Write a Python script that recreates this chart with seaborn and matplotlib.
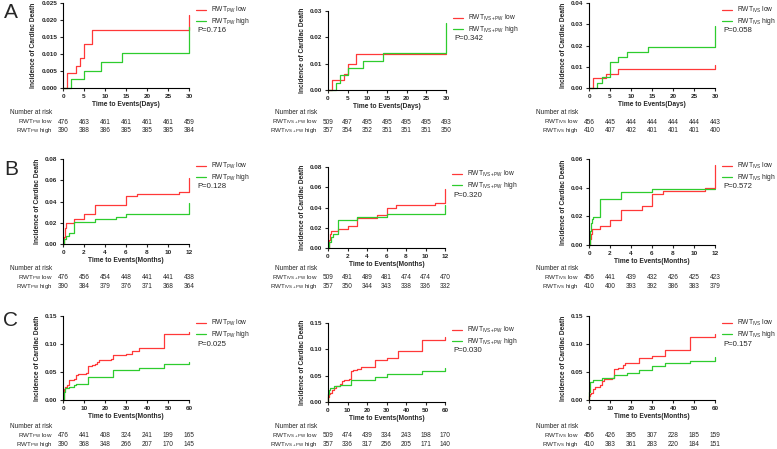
import numpy as np
import pandas as pd
import seaborn as sns
import matplotlib.pyplot as plt
from matplotlib import transforms
from matplotlib.ticker import FormatStrFormatter

sns.set_style("ticks")
plt.rcParams['font.family'] = ['Liberation Sans', 'DejaVu Sans']
plt.rcParams['mathtext.fontset'] = 'custom'
plt.rcParams['mathtext.rm'] = 'Liberation Sans'
plt.rcParams['mathtext.it'] = 'Liberation Sans:italic'
plt.rcParams['mathtext.bf'] = 'Liberation Sans:bold'

#%% data: cumulative incidence step curves (time, incidence)
# row A - 30 days
a_pw_low_t = [0, 1, 3, 4, 5, 7, 30]
a_pw_low_y = [0, 0.0043, 0.0065, 0.0087, 0.0129, 0.0172, 0.0215]
a_pw_high_t = [0, 2, 5, 9, 14, 30]
a_pw_high_y = [0, 0.0026, 0.0051, 0.0077, 0.0103, 0.0179]

a_ivspw_low_t = [0, 1, 4, 5, 7, 30]
a_ivspw_low_y = [0, 0.0039, 0.0059, 0.0098, 0.0138, 0.0138]
a_ivspw_high_t = [0, 2, 3, 5, 9, 14, 30]
a_ivspw_high_y = [0, 0.0028, 0.0056, 0.0084, 0.0112, 0.0140, 0.0255]

a_ivs_low_t = [0, 1, 4, 7, 30]
a_ivs_low_y = [0, 0.0045, 0.0068, 0.0090, 0.0110]
a_ivs_high_t = [0, 2, 3, 5, 7, 9, 14, 30]
a_ivs_high_y = [0, 0.0025, 0.0050, 0.0122, 0.0146, 0.0170, 0.0195, 0.0293]

# row B - 12 months
b_pw_low_t = [0, 0.1, 0.2, 0.3, 1, 2, 3, 6, 7, 11, 12]
b_pw_low_y = [0, 0.007, 0.015, 0.0198, 0.0236, 0.028, 0.0364, 0.0449, 0.047, 0.049, 0.062]
b_pw_high_t = [0, 0.1, 0.3, 0.6, 1, 3, 5, 6, 12]
b_pw_high_y = [0, 0.005, 0.0078, 0.0105, 0.021, 0.0232, 0.0257, 0.0279, 0.039]

b_ivspw_low_t = [0, 0.1, 0.2, 0.3, 1, 2, 3, 5, 6, 7, 11, 12]
b_ivspw_low_y = [0, 0.008, 0.0143, 0.0163, 0.0183, 0.0222, 0.0295, 0.0322, 0.0398, 0.0422, 0.0441, 0.058]
b_ivspw_high_t = [0, 0.1, 0.3, 0.5, 1, 3, 6, 12]
b_ivspw_high_y = [0, 0.006, 0.011, 0.014, 0.0279, 0.0309, 0.0335, 0.042]

b_ivs_low_t = [0, 0.1, 0.2, 0.3, 1, 2, 3, 5, 6, 7, 11, 12]
b_ivs_low_y = [0, 0.004, 0.008, 0.0112, 0.0135, 0.0177, 0.0245, 0.0271, 0.0355, 0.0376, 0.0399, 0.056]
b_ivs_high_t = [0, 0.05, 0.1, 0.2, 0.3, 0.4, 1, 3, 6, 12]
b_ivs_high_y = [0, 0.005, 0.01, 0.015, 0.0182, 0.0198, 0.032, 0.0369, 0.0392, 0.0392]

# row C - 60 months
c_pw_low_t = [0, 0.3, 0.5, 1, 2, 3, 5, 6, 7, 11, 12, 14, 15, 16, 17, 21, 23, 24, 30, 33, 36, 48, 60]
c_pw_low_y = [0, 0.01, 0.02, 0.023, 0.027, 0.0356, 0.037, 0.0439, 0.046, 0.049, 0.061, 0.063,
              0.065, 0.067, 0.0706, 0.071, 0.0729, 0.0806, 0.083, 0.087, 0.0937, 0.117, 0.1215]
c_pw_high_t = [0, 0.3, 0.5, 1, 3, 5, 6, 12, 24, 36, 48, 60]
c_pw_high_y = [0, 0.008, 0.015, 0.0207, 0.0231, 0.026, 0.0285, 0.0403, 0.0534, 0.0569, 0.064, 0.068]

c_ivspw_low_t = [0, 0.2, 0.5, 1, 2, 3, 4, 5, 6, 7, 8, 11, 12, 13, 15, 17, 20, 24, 30, 36, 48, 60]
c_ivspw_low_y = [0, 0.01, 0.0146, 0.018, 0.022, 0.026, 0.0297, 0.031, 0.0348, 0.0405, 0.042, 0.043,
                 0.058, 0.06, 0.062, 0.0658, 0.067, 0.0804, 0.0835, 0.0962, 0.1177, 0.1228]
c_ivspw_high_t = [0, 0.2, 0.5, 1, 3, 6, 12, 24, 30, 48, 60]
c_ivspw_high_y = [0, 0.015, 0.022, 0.0266, 0.03, 0.0323, 0.0424, 0.048, 0.053, 0.058, 0.0646]

c_ivs_low_t = [0, 0.1, 0.5, 1, 2, 3, 5, 6, 7, 11, 12, 14, 16, 17, 24, 30, 36, 48, 60]
c_ivs_low_y = [0, 0.008, 0.01, 0.013, 0.0202, 0.024, 0.026, 0.0332, 0.037, 0.039, 0.0557, 0.058,
               0.0617, 0.0652, 0.0753, 0.0789, 0.0901, 0.1127, 0.117]
c_ivs_high_t = [0, 0.1, 0.3, 0.5, 2, 6, 12, 18, 24, 30, 36, 48, 60]
c_ivs_high_y = [0, 0.015, 0.025, 0.033, 0.0356, 0.039, 0.045, 0.048, 0.054, 0.061, 0.0652, 0.07, 0.077]

#%% number at risk
a_pw_risk_low = [476, 463, 461, 461, 461, 461, 459]
a_pw_risk_high = [390, 388, 386, 385, 385, 385, 384]
a_ivspw_risk_low = [509, 497, 495, 495, 495, 495, 493]
a_ivspw_risk_high = [357, 354, 352, 351, 351, 351, 350]
a_ivs_risk_low = [456, 445, 444, 444, 444, 444, 443]
a_ivs_risk_high = [410, 407, 402, 401, 401, 401, 400]

b_pw_risk_low = [476, 456, 454, 448, 441, 441, 438]
b_pw_risk_high = [390, 384, 379, 376, 371, 368, 364]
b_ivspw_risk_low = [509, 491, 489, 481, 474, 474, 470]
b_ivspw_risk_high = [357, 350, 344, 343, 338, 336, 332]
b_ivs_risk_low = [456, 441, 439, 432, 426, 425, 423]
b_ivs_risk_high = [410, 400, 393, 392, 386, 383, 379]

c_pw_risk_low = [476, 441, 408, 324, 241, 199, 165]
c_pw_risk_high = [390, 368, 348, 266, 207, 170, 145]
c_ivspw_risk_low = [509, 474, 439, 334, 243, 198, 170]
c_ivspw_risk_high = [357, 336, 317, 256, 205, 171, 140]
c_ivs_risk_low = [456, 426, 395, 307, 228, 185, 159]
c_ivs_risk_high = [410, 383, 361, 283, 220, 184, 151]

#%% labels, ticks, p values
groups = ['PW', 'IVS+PW', 'IVS']
row_letters = ['A', 'B', 'C']
x_labels = ['Time to Events(Days)', 'Time to Events(Months)', 'Time to Events(Months)']
x_ticks = [[0, 5, 10, 15, 20, 25, 30], [0, 2, 4, 6, 8, 10, 12], [0, 10, 20, 30, 40, 50, 60]]
y_tops = [[0.025, 0.03, 0.04], [0.08, 0.08, 0.06], [0.15, 0.15, 0.15]]
y_steps = [[0.005, 0.01, 0.01], [0.02, 0.02, 0.02], [0.05, 0.05, 0.05]]
y_fmts = [['%.3f', '%.2f', '%.2f'], ['%.2f', '%.2f', '%.2f'], ['%.2f', '%.2f', '%.2f']]
p_values = [['0.716', '0.342', '0.058'], ['0.128', '0.320', '0.572'], ['0.025', '0.030', '0.157']]

curves = [
    [(a_pw_low_t, a_pw_low_y, a_pw_high_t, a_pw_high_y),
     (a_ivspw_low_t, a_ivspw_low_y, a_ivspw_high_t, a_ivspw_high_y),
     (a_ivs_low_t, a_ivs_low_y, a_ivs_high_t, a_ivs_high_y)],
    [(b_pw_low_t, b_pw_low_y, b_pw_high_t, b_pw_high_y),
     (b_ivspw_low_t, b_ivspw_low_y, b_ivspw_high_t, b_ivspw_high_y),
     (b_ivs_low_t, b_ivs_low_y, b_ivs_high_t, b_ivs_high_y)],
    [(c_pw_low_t, c_pw_low_y, c_pw_high_t, c_pw_high_y),
     (c_ivspw_low_t, c_ivspw_low_y, c_ivspw_high_t, c_ivspw_high_y),
     (c_ivs_low_t, c_ivs_low_y, c_ivs_high_t, c_ivs_high_y)],
]
risks = [
    [(a_pw_risk_low, a_pw_risk_high), (a_ivspw_risk_low, a_ivspw_risk_high), (a_ivs_risk_low, a_ivs_risk_high)],
    [(b_pw_risk_low, b_pw_risk_high), (b_ivspw_risk_low, b_ivspw_risk_high), (b_ivs_risk_low, b_ivs_risk_high)],
    [(c_pw_risk_low, c_pw_risk_high), (c_ivspw_risk_low, c_ivspw_risk_high), (c_ivs_risk_low, c_ivs_risk_high)],
]

#%% layout in pixels (left, right, top, bottom)
W, H = 777, 449
boxes = [
    [(63, 189, 3, 88), (328, 446, 11, 90), (589, 715, 3, 88)],
    [(63, 189, 159, 244), (328, 445, 167, 248), (589, 715, 159, 245)],
    [(63, 189, 316, 400), (328, 445, 323, 402), (589, 715, 316, 400)],
]
risk_rows = [(113, 122, 131), (268, 277.5, 286.5), (426.5, 435.5, 444.5)]
letter_pos = [(11, 12), (11, 170), (11, 320)]

red = '#ff3838'
green = '#2ecc2e'

fig = plt.figure(figsize=(W / 100, H / 100), dpi=100)

def fx(px):
    return px / W

def fy(py):
    return 1 - py / H

for r in range(3):
    fig.text(fx(letter_pos[r][0]), fy(letter_pos[r][1]), row_letters[r],
             fontsize=15, ha='center', va='center')
    for c in range(3):
        l, rr, t, b = boxes[r][c]
        ax = fig.add_axes([fx(l), fy(b), (rr - l) / W, (b - t) / H])
        lo_t, lo_y, hi_t, hi_y = curves[r][c]
        lab_low = 'RWT$_{\\mathrm{' + groups[c] + '}}$ low'
        lab_high = 'RWT$_{\\mathrm{' + groups[c] + '}}$ high'
        df = pd.concat([
            pd.DataFrame({'time': lo_t, 'inc': lo_y, 'group': lab_low}),
            pd.DataFrame({'time': hi_t, 'inc': hi_y, 'group': lab_high}),
        ])
        sns.lineplot(data=df, x='time', y='inc', hue='group', hue_order=[lab_low, lab_high],
                     palette=[red, green], drawstyle='steps-post', estimator=None, sort=False,
                     lw=0.9, clip_on=False, ax=ax)
        ax.set_xlim(0, x_ticks[r][-1])
        ax.set_ylim(0, y_tops[r][c])
        ax.set_xticks(x_ticks[r])
        ax.set_yticks(np.arange(0, y_tops[r][c] + 1e-9, y_steps[r][c]))
        ax.yaxis.set_major_formatter(FormatStrFormatter(y_fmts[r][c]))
        ax.tick_params(direction='out', length=2.5, width=0.8, pad=1.5, labelsize=4.6)
        for lbl in ax.get_xticklabels() + ax.get_yticklabels():
            lbl.set_fontweight('bold')
        for s in ['left', 'bottom']:
            ax.spines[s].set_linewidth(0.8)
            ax.spines[s].set_color('black')
        sns.despine(ax=ax)
        ax.set_xlabel(x_labels[r], fontsize=4.8, fontweight='bold', labelpad=2)
        ax.set_ylabel('Incidence of Cardiac Death', fontsize=4.8, fontweight='bold', labelpad=3)

        # legend and p value
        handles, labels = ax.get_legend_handles_labels()
        wpx, hpx = rr - l, b - t
        ax.legend(handles, labels, loc='upper left',
                  bbox_to_anchor=(1 + 7 / wpx, 1 - 2 / hpx), frameon=False,
                  fontsize=4.8, handlelength=1.5, handletextpad=0.8,
                  labelspacing=0.15, borderpad=0, borderaxespad=0)
        fig.text(fx(rr + 8), fy(t + 28), 'P=' + p_values[r][c], fontsize=5.6,
                 ha='left', va='center')

        # number at risk table
        y0, y1, y2 = risk_rows[r]
        trans = transforms.blended_transform_factory(ax.transData, fig.transFigure)
        fig.text(fx(l - 11), fy(y0), 'Number at risk', fontsize=4.7, ha='right', va='center')
        fig.text(fx(l - 10), fy(y1), lab_low, fontsize=4.5, ha='right', va='center')
        fig.text(fx(l - 10), fy(y2), lab_high, fontsize=4.5, ha='right', va='center')
        lo_r, hi_r = risks[r][c]
        for xv, n1, n2 in zip(x_ticks[r], lo_r, hi_r):
            ax.text(xv, fy(y1), str(n1), transform=trans, fontsize=4.7, ha='center', va='center')
            ax.text(xv, fy(y2), str(n2), transform=trans, fontsize=4.7, ha='center', va='center')

fig.savefig('out.png', dpi=100)
